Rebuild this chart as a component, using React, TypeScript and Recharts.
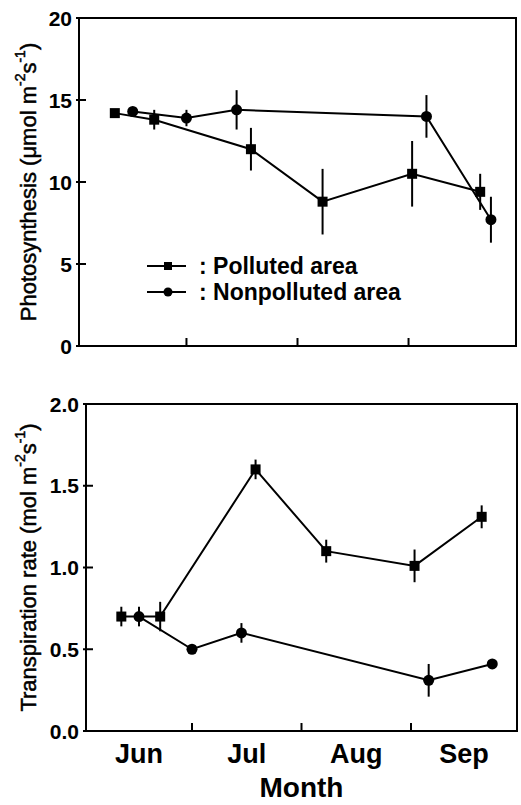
import React from 'react';
import { ScatterChart, Scatter, XAxis, YAxis, ErrorBar, ReferenceArea } from 'recharts';

// days counted from 1 June; month boundaries get tick marks, labels sit mid-month
const months = ['Jun', 'Jul', 'Aug', 'Sep'];
const monthMid = [15, 45.5, 76.5, 107];
const monthEdge = [30, 61, 92];
const dayDomain = [0, 122];

const polDays = [10, 21, 48, 68, 93, 112];
const nonDays = [15, 30, 44, 97, 115];

// photosynthesis (umol m-2 s-1)
const polPhoto = [14.2, 13.8, 12.0, 8.8, 10.5, 9.4];
const polPhotoErr = [0.2, 0.6, 1.3, 2.0, 2.0, 1.1];
const nonPhoto = [14.3, 13.9, 14.4, 14.0, 7.7];
const nonPhotoErr = [0.15, 0.5, 1.2, 1.3, 1.4];
const photoTicks = [0, 5, 10, 15, 20];

// transpiration (mol m-2 s-1)
const polTrans = [0.7, 0.7, 1.6, 1.1, 1.01, 1.31];
const polTransErr = [0.06, 0.09, 0.06, 0.07, 0.1, 0.07];
const nonTrans = [0.7, 0.5, 0.6, 0.31, 0.41];
const nonTransErr = [0.06, 0, 0.06, 0.1, 0];
const transTicks = [0, 0.5, 1, 1.5, 2];

const FONT = '"Liberation Sans", Arial, Helvetica, sans-serif';

const rows = (days: number[], vals: number[], errs: number[]) =>
  days.map((day, i) => ({ day, value: vals[i], err: errs[i] }));

const SquareDot = (p: any) => (
  <rect x={p.cx - 5} y={p.cy - 5} width={10} height={10} fill="#000" />
);
const RoundDot = (p: any) => <circle cx={p.cx} cy={p.cy} r={5.5} fill="#000" />;

const yTick = (decimals: number) => (p: any) => (
  <g>
    <line x1={p.x - 3} x2={p.x + 7} y1={p.y} y2={p.y} stroke="#000" strokeWidth={2} />
    <text
      x={p.x - 7}
      y={p.y}
      dy="0.36em"
      textAnchor="end"
      fontFamily={FONT}
      fontSize={21}
      fontWeight="bold"
      fill="#000"
    >
      {Number(p.payload.value).toFixed(decimals)}
    </text>
  </g>
);

const xTick = (p: any) => {
  const idx = monthMid.indexOf(p.payload.value);
  if (idx >= 0) {
    return (
      <text x={p.x} y={p.y + 32} textAnchor="middle" fontFamily={FONT} fontSize={27} fontWeight="bold" fill="#000">
        {months[idx]}
      </text>
    );
  }
  return <line x1={p.x} x2={p.x} y1={p.y} y2={p.y - 8} stroke="#000" strokeWidth={2} />;
};

const yTitle = (main: string, unit: string) => (p: any) => {
  const vb = p.viewBox || {};
  const cx = 28;
  const cy = (vb.y ?? 0) + (vb.height ?? 0) / 2;
  return (
    <text
      x={cx}
      y={cy}
      transform={`rotate(-90 ${cx} ${cy})`}
      textAnchor="middle"
      dominantBaseline="central"
      fontFamily={FONT}
      fontSize={22}
      fill="#000"
      stroke="#000"
      strokeWidth={0.5}
    >
      {main} ({unit} m
      <tspan dy={-8} fontSize={14}>-2</tspan>
      <tspan dy={8}>s</tspan>
      <tspan dy={-8} fontSize={14}>-1</tspan>
      <tspan dy={8}>)</tspan>
    </text>
  );
};

const Legend = () => (
  <svg width={300} height={54} style={{ position: 'absolute', left: 140, top: 253 }}>
    <line x1={7} x2={46} y1={13} y2={13} stroke="#000" strokeWidth={2} />
    <rect x={24} y={9} width={8} height={8} fill="#000" />
    <text x={59} y={13} dy="0.36em" fontFamily={FONT} fontSize={23} fontWeight="bold" fill="#000">
      : Polluted area
    </text>
    <line x1={7} x2={46} y1={39} y2={39} stroke="#000" strokeWidth={2} />
    <circle cx={28} cy={39} r={4.5} fill="#000" />
    <text x={59} y={39} dy="0.36em" fontFamily={FONT} fontSize={23} fontWeight="bold" fill="#000">
      : Nonpolluted area
    </text>
  </svg>
);

export default function App() {
  return (
    <div style={{ position: 'absolute', left: 0, top: 0, width: 521, height: 805, background: '#fff' }}>
      <div style={{ position: 'absolute', left: 0, top: 0 }}>
        <ScatterChart width={521} height={360} margin={{ top: 18, right: 5, left: 0, bottom: 0 }}>
          <XAxis
            dataKey="day"
            type="number"
            domain={dayDomain}
            ticks={monthEdge}
            interval={0}
            height={14}
            axisLine={false}
            tickLine={false}
            tickSize={0}
            tickMargin={0}
            tick={xTick}
          />
          <YAxis
            dataKey="value"
            type="number"
            domain={[0, 20]}
            ticks={photoTicks}
            interval={0}
            width={79}
            axisLine={false}
            tickLine={false}
            tickSize={0}
            tickMargin={0}
            tick={yTick(0)}
            label={yTitle('Photosynthesis', '\u03bcmol')}
          />
          <ReferenceArea x1={0} x2={122} y1={0} y2={20} fill="none" stroke="#000" strokeWidth={2} />
          <Scatter
            data={rows(polDays, polPhoto, polPhotoErr)}
            line={{ stroke: '#000', strokeWidth: 2 }}
            shape={SquareDot}
            isAnimationActive={false}
          >
            <ErrorBar dataKey="err" direction="y" width={0} stroke="#000" strokeWidth={2} />
          </Scatter>
          <Scatter
            data={rows(nonDays, nonPhoto, nonPhotoErr)}
            line={{ stroke: '#000', strokeWidth: 2 }}
            shape={RoundDot}
            isAnimationActive={false}
          >
            <ErrorBar dataKey="err" direction="y" width={0} stroke="#000" strokeWidth={2} />
          </Scatter>
        </ScatterChart>
        <Legend />
      </div>

      <div style={{ position: 'absolute', left: 0, top: 380 }}>
        <ScatterChart width={521} height={425} margin={{ top: 24, right: 4, left: 0, bottom: 0 }}>
          <XAxis
            dataKey="day"
            type="number"
            domain={dayDomain}
            ticks={[...monthMid, ...monthEdge].sort((a, b) => a - b)}
            interval={0}
            height={74}
            axisLine={false}
            tickLine={false}
            tickSize={0}
            tickMargin={0}
            tick={xTick}
            label={{
              value: 'Month',
              position: 'insideBottom',
              offset: 8,
              style: { fontFamily: FONT, fontSize: 28, fontWeight: 'bold', fill: '#000' },
            }}
          />
          <YAxis
            dataKey="value"
            type="number"
            domain={[0, 2]}
            ticks={transTicks}
            interval={0}
            width={86}
            axisLine={false}
            tickLine={false}
            tickSize={0}
            tickMargin={0}
            tick={yTick(1)}
            label={yTitle('Transpiration rate', 'mol')}
          />
          <ReferenceArea x1={0} x2={122} y1={0} y2={2} fill="none" stroke="#000" strokeWidth={2} />
          <Scatter
            data={rows(polDays, polTrans, polTransErr)}
            line={{ stroke: '#000', strokeWidth: 2 }}
            shape={SquareDot}
            isAnimationActive={false}
          >
            <ErrorBar dataKey="err" direction="y" width={0} stroke="#000" strokeWidth={2} />
          </Scatter>
          <Scatter
            data={rows(nonDays, nonTrans, nonTransErr)}
            line={{ stroke: '#000', strokeWidth: 2 }}
            shape={RoundDot}
            isAnimationActive={false}
          >
            <ErrorBar dataKey="err" direction="y" width={0} stroke="#000" strokeWidth={2} />
          </Scatter>
        </ScatterChart>
      </div>
    </div>
  );
}
